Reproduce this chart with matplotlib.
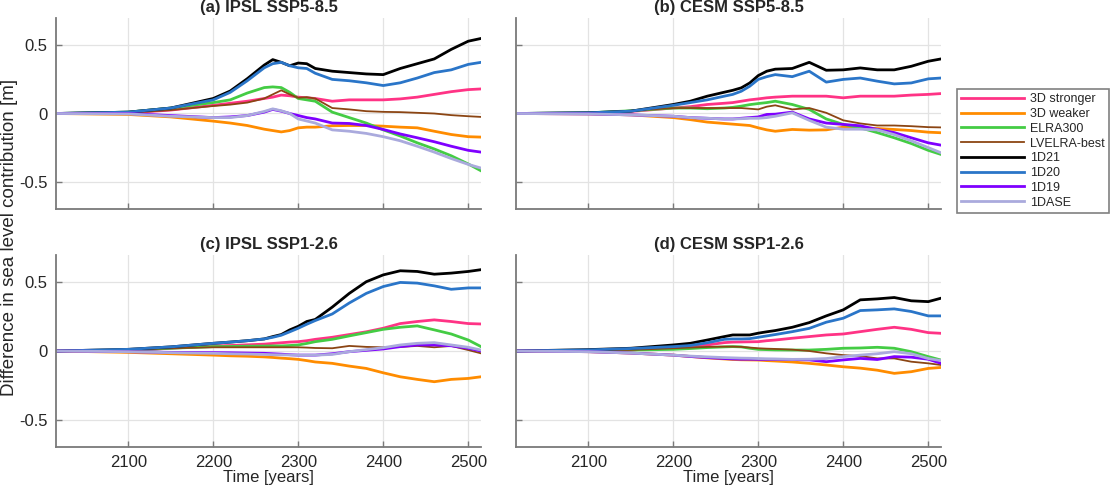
import numpy as np
import matplotlib
matplotlib.use("Agg")
import matplotlib.pyplot as plt

plt.rcParams['font.family'] = ['Liberation Sans', 'DejaVu Sans']

years = [2015, 2100, 2150, 2200, 2220, 2240, 2260, 2270, 2280, 2290, 2300, 2310,
         2320, 2340, 2360, 2380, 2400, 2420, 2440, 2460, 2480, 2500, 2515]

series_names = ["3D stronger", "3D weaker", "ELRA300", "LVELRA-best",
                "1D21", "1D20", "1D19", "1DASE"]
series_colors = ["#ff3385", "#ff8c00", "#44cc44", "#8b4513",
                 "#000000", "#2a75c8", "#7f00ff", "#aaaadd"]
series_widths = [2.0, 2.0, 2.0, 1.3, 2.0, 2.0, 2.0, 2.0]

panel_titles = ["(a) IPSL SSP5-8.5", "(b) CESM SSP5-8.5",
                "(c) IPSL SSP1-2.6", "(d) CESM SSP1-2.6"]

# (a) IPSL SSP5-8.5
a_3d_stronger = [0, 0.005, 0.025, 0.06, 0.075, 0.09, 0.11, 0.12, 0.135, 0.13, 0.12, 0.115,
                 0.11, 0.09, 0.10, 0.10, 0.10, 0.107, 0.12, 0.14, 0.16, 0.175, 0.18]
a_3d_weaker = [0, -0.007, -0.025, -0.056, -0.07, -0.088, -0.115, -0.125, -0.135, -0.125, -0.105, -0.1,
               -0.1, -0.09, -0.088, -0.088, -0.093, -0.1, -0.105, -0.13, -0.154, -0.17, -0.173]
a_elra300 = [0, 0.01, 0.04, 0.08, 0.10, 0.15, 0.19, 0.195, 0.19, 0.155, 0.11, 0.10,
             0.09, 0.01, -0.03, -0.07, -0.12, -0.165, -0.215, -0.26, -0.31, -0.37, -0.42]
a_lvelra = [0, 0.005, 0.025, 0.055, 0.065, 0.08, 0.11, 0.14, 0.17, 0.14, 0.115, 0.12,
            0.11, 0.04, 0.03, 0.017, 0.012, 0.01, 0.005, 0.0, -0.012, -0.02, -0.025]
a_1d21 = [0, 0.01, 0.04, 0.11, 0.165, 0.255, 0.355, 0.395, 0.375, 0.35, 0.37, 0.365,
          0.33, 0.31, 0.30, 0.29, 0.285, 0.33, 0.365, 0.40, 0.47, 0.53, 0.55]
a_1d20 = [0, 0.01, 0.04, 0.10, 0.155, 0.24, 0.335, 0.365, 0.375, 0.35, 0.335, 0.33,
          0.295, 0.25, 0.24, 0.225, 0.205, 0.225, 0.26, 0.30, 0.32, 0.36, 0.375]
a_1d19 = [0, 0, -0.015, -0.03, -0.025, -0.015, 0.01, 0.03, 0.017, 0.0, -0.015, -0.03,
          -0.04, -0.07, -0.073, -0.088, -0.117, -0.15, -0.178, -0.207, -0.24, -0.27, -0.283]
a_1dase = [0, -0.003, -0.02, -0.03, -0.03, -0.015, 0.015, 0.034, 0.02, 0.0, -0.04, -0.055,
           -0.07, -0.12, -0.13, -0.146, -0.17, -0.2, -0.24, -0.283, -0.33, -0.373, -0.4]

# (b) CESM SSP5-8.5
b_3d_stronger = [0, 0.003, 0.015, 0.04, 0.05, 0.066, 0.075, 0.08, 0.09, 0.1, 0.107, 0.115,
                 0.12, 0.127, 0.127, 0.127, 0.115, 0.127, 0.127, 0.127, 0.135, 0.14, 0.146]
b_3d_weaker = [0, -0.003, -0.01, -0.03, -0.045, -0.063, -0.073, -0.078, -0.083, -0.088, -0.105, -0.12,
               -0.13, -0.117, -0.122, -0.12, -0.1, -0.105, -0.11, -0.117, -0.125, -0.137, -0.141]
b_elra300 = [0, 0.005, 0.02, 0.04, 0.04, 0.035, 0.04, 0.045, 0.054, 0.065, 0.073, 0.08,
             0.09, 0.066, 0.03, -0.04, -0.08, -0.105, -0.14, -0.178, -0.22, -0.27, -0.3]
b_lvelra = [0, 0.005, 0.02, 0.04, 0.04, 0.04, 0.04, 0.04, 0.04, 0.035, 0.03, 0.05,
            0.06, 0.03, 0.04, 0.005, -0.05, -0.073, -0.088, -0.088, -0.093, -0.1, -0.102]
b_1d21 = [0, 0.005, 0.017, 0.066, 0.09, 0.127, 0.156, 0.17, 0.188, 0.224, 0.278, 0.31,
          0.325, 0.33, 0.375, 0.317, 0.32, 0.334, 0.32, 0.32, 0.346, 0.383, 0.4]
b_1d20 = [0, 0.005, 0.017, 0.06, 0.08, 0.10, 0.127, 0.14, 0.163, 0.2, 0.25, 0.27,
          0.285, 0.27, 0.31, 0.23, 0.25, 0.26, 0.237, 0.217, 0.224, 0.254, 0.26]
b_1d19 = [0, -0.003, -0.01, -0.02, -0.03, -0.035, -0.04, -0.04, -0.035, -0.03, -0.025, -0.007,
          -0.005, 0.01, -0.04, -0.07, -0.08, -0.09, -0.117, -0.14, -0.178, -0.215, -0.232]
b_1dase = [0, -0.003, -0.01, -0.02, -0.03, -0.035, -0.04, -0.04, -0.038, -0.035, -0.035, -0.03,
           -0.02, 0.005, -0.05, -0.1, -0.115, -0.115, -0.12, -0.155, -0.2, -0.25, -0.288]

# (c) IPSL SSP1-2.6
c_3d_stronger = [0, 0.005, 0.02, 0.037, 0.04, 0.045, 0.05, 0.055, 0.06, 0.065, 0.068, 0.075,
                 0.085, 0.1, 0.12, 0.14, 0.166, 0.2, 0.215, 0.227, 0.215, 0.2, 0.197]
c_3d_weaker = [0, -0.01, -0.02, -0.03, -0.035, -0.038, -0.043, -0.047, -0.052, -0.056, -0.061, -0.07,
               -0.08, -0.09, -0.11, -0.127, -0.159, -0.188, -0.207, -0.224, -0.207, -0.2, -0.188]
c_elra300 = [0, 0.005, 0.02, 0.032, 0.033, 0.035, 0.036, 0.037, 0.037, 0.04, 0.044, 0.055,
             0.068, 0.085, 0.11, 0.134, 0.158, 0.173, 0.183, 0.154, 0.124, 0.08, 0.032]
c_lvelra = [0, 0.007, 0.02, 0.027, 0.027, 0.027, 0.027, 0.027, 0.027, 0.027, 0.027, 0.025,
            0.022, 0.02, 0.037, 0.03, 0.027, 0.03, 0.037, 0.027, 0.037, 0.007, -0.017]
c_1d21 = [0, 0.012, 0.03, 0.056, 0.065, 0.075, 0.088, 0.105, 0.12, 0.154, 0.18, 0.215,
          0.23, 0.32, 0.42, 0.505, 0.555, 0.585, 0.58, 0.56, 0.568, 0.58, 0.593]
c_1d20 = [0, 0.012, 0.03, 0.056, 0.065, 0.075, 0.088, 0.1, 0.115, 0.14, 0.166, 0.195,
          0.222, 0.27, 0.35, 0.42, 0.47, 0.5, 0.495, 0.475, 0.45, 0.46, 0.46]
c_1d19 = [0, -0.005, -0.01, -0.012, -0.013, -0.015, -0.017, -0.02, -0.023, -0.027, -0.03, -0.03,
          -0.03, -0.02, -0.005, 0.005, 0.015, 0.032, 0.044, 0.044, 0.038, 0.02, 0.0]
c_1dase = [0, -0.005, -0.012, -0.017, -0.02, -0.022, -0.025, -0.027, -0.028, -0.029, -0.03, -0.03,
           -0.03, -0.025, -0.005, 0.01, 0.024, 0.044, 0.056, 0.061, 0.044, 0.027, 0.007]

# (d) CESM SSP1-2.6
d_3d_stronger = [0, 0.005, 0.012, 0.02, 0.03, 0.044, 0.061, 0.065, 0.066, 0.067, 0.068, 0.075,
                 0.08, 0.093, 0.105, 0.117, 0.124, 0.141, 0.158, 0.173, 0.158, 0.134, 0.129]
d_3d_weaker = [0, -0.005, -0.015, -0.03, -0.04, -0.05, -0.058, -0.062, -0.064, -0.065, -0.066, -0.07,
               -0.073, -0.08, -0.09, -0.102, -0.115, -0.125, -0.14, -0.163, -0.151, -0.127, -0.12]
d_elra300 = [0, 0.003, 0.007, 0.012, 0.018, 0.025, 0.03, 0.032, 0.03, 0.02, 0.012, 0.01,
             0.008, 0.007, 0.007, 0.012, 0.02, 0.022, 0.027, 0.02, -0.005, -0.041, -0.066]
d_lvelra = [0, 0.003, 0.008, 0.02, 0.025, 0.03, 0.032, 0.032, 0.03, 0.025, 0.02, 0.017,
            0.015, 0.01, 0.0, -0.017, -0.03, -0.037, -0.054, -0.054, -0.078, -0.09, -0.102]
d_1d21 = [0, 0.01, 0.02, 0.044, 0.056, 0.08, 0.105, 0.117, 0.117, 0.117, 0.13, 0.14,
          0.149, 0.173, 0.207, 0.256, 0.3, 0.373, 0.38, 0.39, 0.366, 0.36, 0.385]
d_1d20 = [0, 0.008, 0.018, 0.032, 0.04, 0.06, 0.085, 0.088, 0.088, 0.09, 0.1, 0.11,
          0.12, 0.141, 0.165, 0.21, 0.239, 0.295, 0.3, 0.307, 0.288, 0.256, 0.256]
d_1d19 = [0, -0.005, -0.015, -0.03, -0.04, -0.048, -0.055, -0.058, -0.06, -0.06, -0.061, -0.061,
          -0.061, -0.062, -0.065, -0.078, -0.065, -0.054, -0.062, -0.041, -0.045, -0.06, -0.09]
d_1dase = [0, -0.005, -0.015, -0.03, -0.037, -0.043, -0.048, -0.05, -0.052, -0.053, -0.055, -0.057,
           -0.058, -0.061, -0.06, -0.055, -0.041, -0.03, -0.02, -0.005, -0.02, -0.055, -0.07]

panels = [
    [a_3d_stronger, a_3d_weaker, a_elra300, a_lvelra, a_1d21, a_1d20, a_1d19, a_1dase],
    [b_3d_stronger, b_3d_weaker, b_elra300, b_lvelra, b_1d21, b_1d20, b_1d19, b_1dase],
    [c_3d_stronger, c_3d_weaker, c_elra300, c_lvelra, c_1d21, c_1d20, c_1d19, c_1dase],
    [d_3d_stronger, d_3d_weaker, d_elra300, d_lvelra, d_1d21, d_1d20, d_1d19, d_1dase],
]

x_ticks = [2100, 2200, 2300, 2400, 2500]
y_ticks = [-0.5, 0, 0.5]
y_ticklabels = ["-0.5", "0", "0.5"]

W, H = 1112, 490
fig = plt.figure(figsize=(W / 100, H / 100), dpi=100)

axis_gray = "#7a7a7a"
text_col = "#262626"

rects_px = [(56, 18, 481, 209), (516, 18, 941, 209),
            (56, 255, 481, 447), (516, 255, 941, 447)]

handles = []
for i, (l, t, r, b) in enumerate(rects_px):
    ax = fig.add_axes([l / W, 1 - b / H, (r - l) / W, (b - t) / H])
    for vals, name, col, lw in zip(panels[i], series_names, series_colors, series_widths):
        h, = ax.plot(years, vals, color=col, lw=lw, label=name, solid_joinstyle='round')
        if i == 0:
            handles.append(h)
    ax.set_xlim(2015, 2515)
    ax.set_ylim(-0.7, 0.7)
    ax.set_xticks(x_ticks)
    ax.set_yticks(y_ticks)
    ax.grid(True, color="#e3e3e3", lw=0.9)
    ax.set_axisbelow(True)
    for s in ["top", "right"]:
        ax.spines[s].set_visible(False)
    for s in ["left", "bottom"]:
        ax.spines[s].set_color(axis_gray)
        ax.spines[s].set_linewidth(1.3)
    ax.tick_params(direction="in", length=4, width=1.0, color=axis_gray,
                   labelsize=12, labelcolor=text_col, pad=6)
    if i in (0, 2):
        ax.set_yticklabels(y_ticklabels)
    else:
        ax.set_yticklabels([])
    if i in (2, 3):
        ax.set_xticklabels([str(x) for x in x_ticks])
        ax.set_xlabel("Time [years]", fontsize=12, color=text_col, labelpad=0)
    else:
        ax.set_xticklabels([])
    ax.set_title(panel_titles[i], fontsize=12, fontweight="bold", color=text_col, pad=4)

fig.text(10 / W, 1 - 237 / H, "Difference in sea level contribution [m]",
         rotation=90, ha="center", va="center", fontsize=13.5, color=text_col)

leg = fig.legend(handles=handles, loc="upper left",
                 bbox_to_anchor=(957 / W, 1 - 89 / H), fontsize=9,
                 handlelength=5.0, handletextpad=0.5, labelspacing=0.22,
                 borderpad=0.35, borderaxespad=0, frameon=True, fancybox=False,
                 framealpha=1, edgecolor="#808080")
leg.get_frame().set_linewidth(1.2)
for txt in leg.get_texts():
    txt.set_color(text_col)

fig.savefig("out.png", dpi=100)
